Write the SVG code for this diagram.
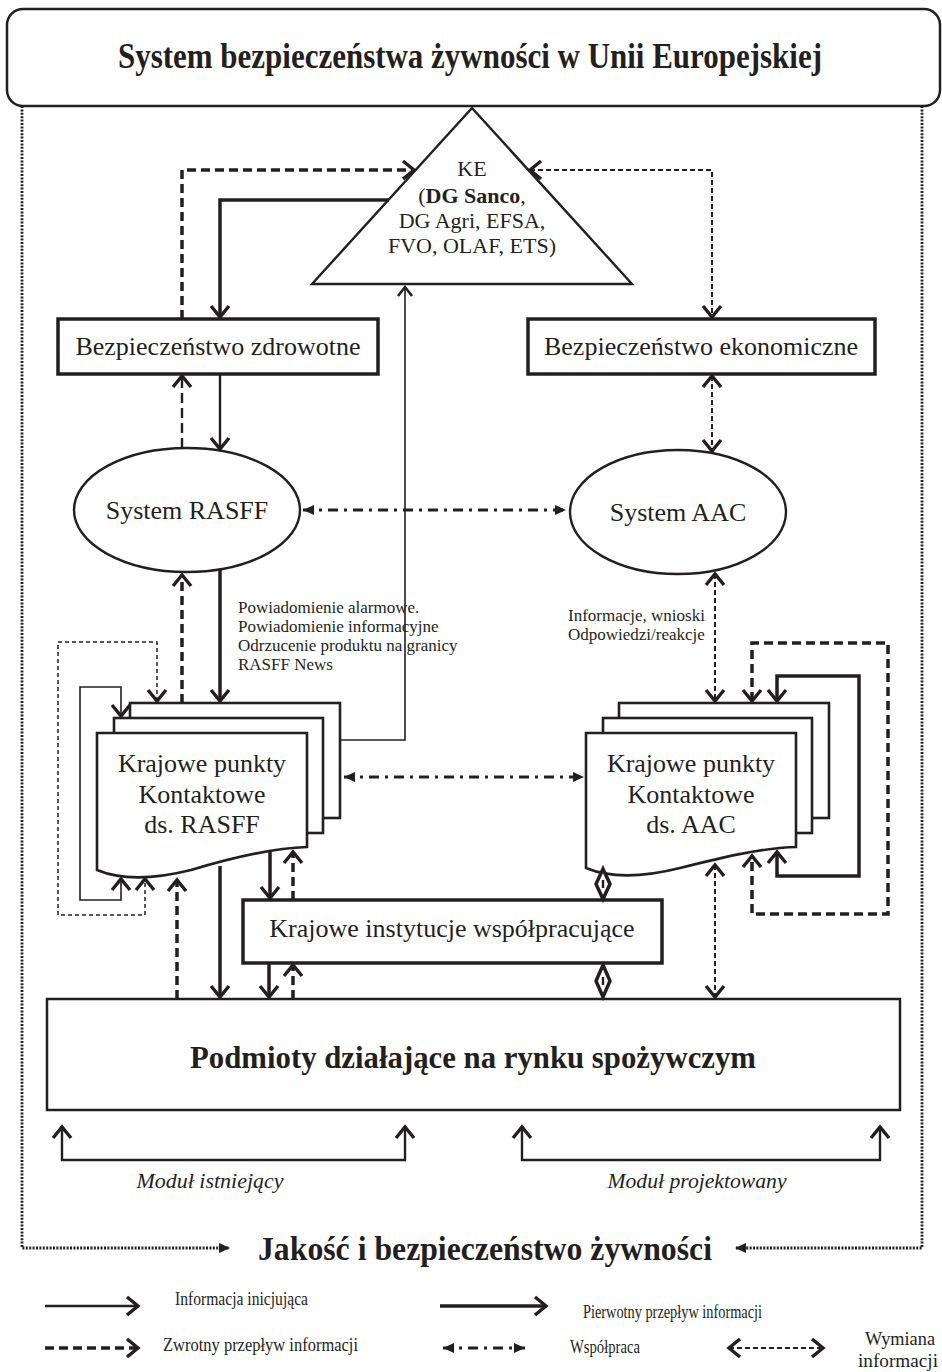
<svg xmlns="http://www.w3.org/2000/svg" width="942" height="1372" viewBox="0 0 942 1372">
<defs>
<style>
text{font-family:"Liberation Serif","Times New Roman",serif;fill:#231f20}
.c{text-anchor:middle}
.b{font-weight:bold}
.n{fill:#fff;stroke:#231f20}
.ln{fill:none;stroke:#231f20;stroke-linejoin:miter}
.s1{stroke-width:1.6}
.s2{stroke-width:2.4}
.s3{stroke-width:3.5}
.d3{stroke-width:3.5;stroke-dasharray:9 5}
.d2{stroke-width:2.4;stroke-dasharray:10 5}
.dx{stroke-width:2;stroke-dasharray:5 3}
.d1{stroke-width:1.5;stroke-dasharray:4 3}
.dd{stroke-width:3;stroke-dasharray:10 6 3 6}
.dot{stroke-width:2.8;stroke-dasharray:2 1.4}
.v{marker-end:url(#v)}
.vv{marker-start:url(#v);marker-end:url(#v)}
.vs{marker-end:url(#vs)}
.tt{marker-start:url(#t);marker-end:url(#t)}
.te{marker-end:url(#t)}
</style>
<marker id="v" markerUnits="userSpaceOnUse" markerWidth="18" markerHeight="24" viewBox="0 0 18 24" refX="14" refY="12" orient="auto-start-reverse">
<path d="M3,3 L14,12 L3,21" fill="none" stroke="#231f20" stroke-width="3.4"/>
</marker>
<marker id="vs" markerUnits="userSpaceOnUse" markerWidth="16" markerHeight="20" viewBox="0 0 16 20" refX="12" refY="10" orient="auto-start-reverse">
<path d="M3,3 L12,10 L3,17" fill="none" stroke="#231f20" stroke-width="2.6"/>
</marker>
<marker id="t" markerUnits="userSpaceOnUse" markerWidth="12" markerHeight="12" viewBox="0 0 12 12" refX="11" refY="6" orient="auto-start-reverse">
<path d="M0,1 L11,6 L0,11 Z" fill="#231f20"/>
</marker>
</defs>
<rect width="942" height="1372" fill="#fff"/>

<g id="title">
<rect x="7" y="9" width="933" height="97" rx="16" class="n" stroke-width="2.5"/>
<text x="470" y="68" class="c b" font-size="36" textLength="704" lengthAdjust="spacingAndGlyphs">System bezpieczeństwa żywności w Unii Europejskiej</text>
</g>

<g id="frame" class="ln dot">
<path d="M22,106 V1248 H230" class="te"/>
<path d="M922,106 V1248 H735" class="te"/>
</g>

<g id="ke">
<polygon points="472,108 632,284 312,284" class="n" stroke-width="2.4"/>
<text x="472" y="176" class="c" font-size="22">KE</text>
<text x="472" y="203" class="c" font-size="22">(<tspan class="b">DG Sanco</tspan>,</text>
<text x="472" y="228" class="c" font-size="22">DG Agri, EFSA,</text>
<text x="472" y="253" class="c" font-size="22">FVO, OLAF, ETS)</text>
</g>

<g id="bezp-zdrowotne">
<rect x="58" y="319" width="320" height="55" class="n" stroke-width="3.5"/>
<text x="218" y="355" class="c" font-size="26">Bezpieczeństwo zdrowotne</text>
</g>
<g id="bezp-ekonomiczne">
<rect x="528" y="319" width="347" height="55" class="n" stroke-width="3.5"/>
<text x="701" y="355" class="c" font-size="26">Bezpieczeństwo ekonomiczne</text>
</g>

<g id="rasff">
<ellipse cx="187" cy="510" rx="113" ry="62" class="n" stroke-width="2.4"/>
<text x="187" y="519" class="c" font-size="26">System RASFF</text>
</g>
<g id="aac">
<ellipse cx="678" cy="512" rx="108" ry="62" class="n" stroke-width="2.4"/>
<text x="678" y="521" class="c" font-size="26">System AAC</text>
</g>

<g id="kpk-rasff">
<rect x="130" y="703" width="210" height="115" class="n" stroke-width="2.6"/>
<rect x="114" y="718" width="209" height="115" class="n" stroke-width="2.6"/>
<path d="M97,733 H307 V847 C271,848 231,858 191,870 C151,880 121,880 97,870 Z" class="n" stroke-width="2.6"/>
<text x="202" y="772" class="c" font-size="26">Krajowe punkty</text>
<text x="202" y="803" class="c" font-size="26">Kontaktowe</text>
<text x="202" y="833" class="c" font-size="26">ds. RASFF</text>
</g>

<g id="kpk-aac">
<rect x="619" y="703" width="210" height="115" class="n" stroke-width="2.6"/>
<rect x="603" y="718" width="209" height="115" class="n" stroke-width="2.6"/>
<path d="M586,733 H796 V847 C760,848 720,858 680,868 C640,878 610,878 586,868 Z" class="n" stroke-width="2.6"/>
<text x="691" y="772" class="c" font-size="26">Krajowe punkty</text>
<text x="691" y="803" class="c" font-size="26">Kontaktowe</text>
<text x="691" y="833" class="c" font-size="26">ds. AAC</text>
</g>

<g id="instytucje">
<rect x="243" y="900" width="419" height="63" class="n" stroke-width="3.5"/>
<text x="452" y="937" class="c" font-size="26">Krajowe instytucje współpracujące</text>
</g>

<g id="podmioty">
<rect x="47" y="999" width="853" height="111" class="n" stroke-width="2.5"/>
<text x="473" y="1068" class="c b" font-size="31" textLength="566" lengthAdjust="spacingAndGlyphs">Podmioty działające na rynku spożywczym</text>
</g>

<g id="connectors">
<path d="M182,319 V170 H414" class="ln d3 v"/>
<path d="M389,200 H220 V317" class="ln s3 v"/>
<path d="M530,170 H712 V317" class="ln dx vv"/>
<path d="M220,374 V449" class="ln s2 v"/>
<path d="M182,448 V376" class="ln d2 v"/>
<path d="M712,376 V451" class="ln dx vv"/>
<path d="M303,510 H566" class="ln dd tt"/>
<path d="M220,570 V701" class="ln s3 v"/>
<path d="M182,703 V575" class="ln d3 v"/>
<path d="M157,701 V642 H58 V915 H145 V879" class="ln d1 vv"/>
<path d="M121,716 V687 H80 V900 H121 V879" class="ln s1 vv"/>
<path d="M177,999 V880" class="ln d3 v"/>
<path d="M220,866 V997" class="ln s3 v"/>
<path d="M270,852 V898" class="ln s3 v"/>
<path d="M293,900 V852" class="ln d3 v"/>
<path d="M269,963 V997" class="ln s3 v"/>
<path d="M293,999 V965" class="ln d3 v"/>
<path d="M340,740 H405 V287" class="ln s1 vs"/>
<path d="M344,777 H584" class="ln dd tt"/>
<path d="M715,574 V701" class="ln dx vv"/>
<path d="M752,701 V643 H888 V914 H752 V856" class="ln d3 vv"/>
<path d="M777,701 V676 H859 V876 H777 V852" class="ln s3 vv"/>
<path d="M715,865 V997" class="ln dx vv"/>
<polygon points="603,869 610,884 603,899 596,884" class="n" stroke-width="3.5"/>
<path d="M603,880 V888" class="ln s2"/>
<polygon points="603,965 610,981 603,997 596,981" class="n" stroke-width="3.5"/>
<path d="M603,977 V985" class="ln s2"/>
<path d="M62,1127 V1160 H405 V1127" class="ln s2 vv"/>
<path d="M522,1127 V1160 H880 V1127" class="ln s2 vv"/>
</g>

<g id="labels">
<text x="238" y="613" font-size="17">Powiadomienie alarmowe.</text>
<text x="238" y="632" font-size="17">Powiadomienie informacyjne</text>
<text x="238" y="651" font-size="17">Odrzucenie produktu na granicy</text>
<text x="238" y="670" font-size="17">RASFF News</text>
<text x="568" y="621" font-size="17">Informacje, wnioski</text>
<text x="568" y="640" font-size="17">Odpowiedzi/reakcje</text>
<text x="210" y="1188" class="c" font-size="21" font-style="italic" textLength="147" lengthAdjust="spacingAndGlyphs">Moduł istniejący</text>
<text x="697" y="1188" class="c" font-size="21" font-style="italic" textLength="179" lengthAdjust="spacingAndGlyphs">Moduł projektowany</text>
<text x="485" y="1260" class="c b" font-size="34" textLength="454" lengthAdjust="spacingAndGlyphs">Jakość i bezpieczeństwo żywności</text>
</g>

<g id="legend">
<path d="M45,1306 H138" class="ln s2 v"/>
<text x="175" y="1305" font-size="18" textLength="133" lengthAdjust="spacingAndGlyphs">Informacja inicjująca</text>
<path d="M440,1306 H546" class="ln s3 v" stroke-width="4"/>
<text x="583" y="1318" font-size="18" textLength="179" lengthAdjust="spacingAndGlyphs">Pierwotny przepływ informacji</text>
<path d="M45,1348 H138" class="ln d3 v" stroke-width="4"/>
<text x="163" y="1351" font-size="18" textLength="195" lengthAdjust="spacingAndGlyphs">Zwrotny przepływ informacji</text>
<path d="M443,1348 H525" class="ln dd tt"/>
<text x="570" y="1353" font-size="18" textLength="70" lengthAdjust="spacingAndGlyphs">Współpraca</text>
<path d="M729,1348 H823" class="ln dx vv"/>
<text x="865" y="1345" font-size="18" textLength="70" lengthAdjust="spacingAndGlyphs">Wymiana</text>
<text x="858" y="1367" font-size="18" textLength="80" lengthAdjust="spacingAndGlyphs">informacji</text>
</g>
</svg>
